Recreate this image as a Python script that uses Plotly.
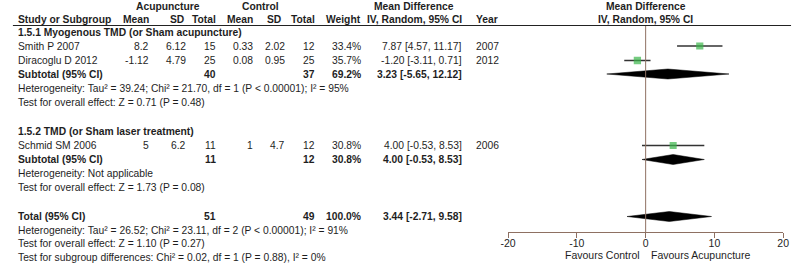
import plotly.graph_objects as go

# ---------------- data ----------------
studies = ["Smith P 2007", "Diracoglu D 2012", "Schmid SM 2006"]
acu_mean = [8.2, -1.12, 5]
acu_sd = [6.12, 4.79, 6.2]
acu_n = [15, 25, 11]
ctl_mean = [0.33, 0.08, 1]
ctl_sd = [2.02, 0.95, 4.7]
ctl_n = [12, 25, 12]
weight = [33.4, 35.7, 30.8]
md = [7.87, -1.20, 4.00]
md_lo = [4.57, -3.11, -0.53]
md_hi = [11.17, 0.71, 8.53]
years = [2007, 2012, 2006]

groups = ["1.5.1 Myogenous TMD (or Sham acupuncture)", "1.5.2 TMD (or Sham laser treatment)"]
sub_acu_n = [40, 11]
sub_ctl_n = [37, 12]
sub_weight = [69.2, 30.8]
sub_md = [3.23, 4.00]
sub_lo = [-5.65, -0.53]
sub_hi = [12.12, 8.53]
sub_het = ["Heterogeneity: Tau² = 39.24; Chi² = 21.70, df = 1 (P < 0.00001); I² = 95%",
           "Heterogeneity: Not applicable"]
sub_test = ["Test for overall effect: Z = 0.71 (P = 0.48)",
            "Test for overall effect: Z = 1.73 (P = 0.08)"]

tot_acu_n = 51
tot_ctl_n = 49
tot_weight = 100.0
tot_md = 3.44
tot_lo = -2.71
tot_hi = 9.58
tot_notes = ["Heterogeneity: Tau² = 26.52; Chi² = 23.11, df = 2 (P < 0.00001); I² = 91%",
             "Test for overall effect: Z = 1.10 (P = 0.27)",
             "Test for subgroup differences: Chi² = 0.02, df = 1 (P = 0.88), I² = 0%"]

tick_vals = [-20, -10, 0, 10, 20]
x_range = [-20, 20]

# ---------------- layout constants (pixels) ----------------
W, H = 800, 271
FONT = "Liberation Sans, Arial, sans-serif"
FS = 10.3
TXT = "#1e1e1e"
GREEN = "#3bb54a"
BROWN = "#8e7062"

study_rows = [46, 60.5, 145.5]
group_rows = [32, 131]
sub_rows = [74, 159.5]
het_rows = [88, 173]
test_rows = [102, 187]
total_row = 216.5
tot_note_rows = [230, 243.5, 257.5]

col_acu_mean = 145
col_acu_sd = 182
col_acu_n = 213
col_ctl_mean = 250
col_ctl_sd = 283
col_ctl_n = 313
col_weight = 360
col_ci = 463
col_year = 475
col_left = 9

fig = go.Figure()
ann = []


def txt(x, y, s, anchor="left", bold=False, size=FS):
    ann.append(dict(x=x / W, y=y, xref="paper", yref="y", text=("<b>%s</b>" % s) if bold else s,
                    showarrow=False, xanchor=anchor, yanchor="middle",
                    font=dict(family=FONT, size=size, color=TXT), borderpad=0))


# headers
txt(163, 6, "Acupuncture", "center", True)
txt(257, 6, "Control", "center", True)
txt(413, 6, "Mean Difference", "center", True)
txt(649, 6, "Mean Difference", "center", True)
txt(col_left, 19, "Study or Subgroup", "left", True)
txt(col_acu_mean, 19, "Mean", "right", True)
txt(col_acu_sd - 2, 19, "SD", "right", True)
txt(col_acu_n, 19, "Total", "right", True)
txt(col_ctl_mean, 19, "Mean", "right", True)
txt(col_ctl_sd - 4, 19, "SD", "right", True)
txt(col_ctl_n, 19, "Total", "right", True)
txt(col_weight, 19, "Weight", "right", True)
txt(col_ci, 19, "IV, Random, 95% CI", "right", True)
txt(col_year, 19, "Year", "left", True)
txt(649, 19, "IV, Random, 95% CI", "center", True)

# study rows
for i, name in enumerate(studies):
    y = study_rows[i]
    txt(col_left, y, name)
    txt(col_acu_mean, y, f"{acu_mean[i]:g}", "right")
    txt(col_acu_sd, y, f"{acu_sd[i]:g}", "right")
    txt(col_acu_n, y, str(acu_n[i]), "right")
    txt(col_ctl_mean, y, f"{ctl_mean[i]:g}", "right")
    txt(col_ctl_sd, y, f"{ctl_sd[i]:g}", "right")
    txt(col_ctl_n, y, str(ctl_n[i]), "right")
    txt(col_weight, y, f"{weight[i]:.1f}%", "right")
    txt(col_ci, y, f"{md[i]:.2f} [{md_lo[i]:.2f}, {md_hi[i]:.2f}]", "right")
    txt(col_year, y, str(years[i]), "left")

# groups
for g, gname in enumerate(groups):
    txt(col_left, group_rows[g], gname, "left", True)
    y = sub_rows[g]
    txt(col_left, y, "Subtotal (95% CI)", "left", True)
    txt(col_acu_n, y, str(sub_acu_n[g]), "right", True)
    txt(col_ctl_n, y, str(sub_ctl_n[g]), "right", True)
    txt(col_weight, y, f"{sub_weight[g]:.1f}%", "right", True)
    txt(col_ci, y, f"{sub_md[g]:.2f} [{sub_lo[g]:.2f}, {sub_hi[g]:.2f}]", "right", True)
    txt(col_left, het_rows[g], sub_het[g])
    txt(col_left, test_rows[g], sub_test[g])

# total
txt(col_left, total_row, "Total (95% CI)", "left", True)
txt(col_acu_n, total_row, str(tot_acu_n), "right", True)
txt(col_ctl_n, total_row, str(tot_ctl_n), "right", True)
txt(col_weight, total_row, f"{tot_weight:.1f}%", "right", True)
txt(col_ci, total_row, f"{tot_md:.2f} [{tot_lo:.2f}, {tot_hi:.2f}]", "right", True)
for r, s in zip(tot_note_rows, tot_notes):
    txt(col_left, r, s)

# favours labels
ann.append(dict(x=-0.7, y=255, xref="x", yref="y", text="Favours Control", showarrow=False,
                xanchor="right", yanchor="middle", font=dict(family=FONT, size=10.5, color=TXT),
                borderpad=0))
ann.append(dict(x=0.7, y=255, xref="x", yref="y", text="Favours Acupuncture", showarrow=False,
                xanchor="left", yanchor="middle", font=dict(family=FONT, size=10.5, color=TXT),
                borderpad=0))

# ---------------- marks ----------------
for i in range(len(studies)):
    fig.add_trace(go.Scatter(x=[md_lo[i], md_hi[i]], y=[study_rows[i]] * 2, mode="lines",
                             line=dict(color="#333333", width=1.4), hoverinfo="skip", showlegend=False))
fig.add_trace(go.Scatter(x=md, y=study_rows, mode="markers",
                         marker=dict(symbol="square", size=[5.5 + w / 20 for w in weight], color=GREEN,
                                     line=dict(width=0)),
                         showlegend=False))


def diamond(lo, est, hi, y, h=5):
    fig.add_trace(go.Scatter(x=[lo, est, hi, est, lo], y=[y, y - h, y, y + h, y], mode="lines",
                             fill="toself", fillcolor="black", line=dict(color="black", width=0.5),
                             hoverinfo="skip", showlegend=False))


for g in range(len(groups)):
    diamond(sub_lo[g], sub_md[g], sub_hi[g], sub_rows[g])
diamond(tot_lo, tot_md, tot_hi, total_row)

shapes = [
    dict(type="line", xref="paper", yref="y", x0=5 / W, x1=797 / W, y0=25.5, y1=25.5,
         line=dict(color="#222222", width=1)),
    dict(type="line", xref="x", yref="y", x0=0, x1=0, y0=26, y1=232,
         line=dict(color=BROWN, width=1)),
]

fig.update_layout(
    width=W, height=H, margin=dict(l=0, r=0, t=0, b=0),
    paper_bgcolor="white", plot_bgcolor="white",
    annotations=ann, shapes=shapes,
    xaxis=dict(domain=[509 / W, 789 / W], range=x_range, tickvals=tick_vals,
               ticktext=[str(v) for v in tick_vals], showgrid=False, zeroline=False,
               showline=True, linecolor=BROWN, linewidth=1, ticks="outside", ticklen=5,
               tickcolor=BROWN, tickwidth=1, anchor="free", position=1 - 232 / H,
               ticklabelstandoff=-4,
               tickfont=dict(family=FONT, size=10.5, color=TXT), fixedrange=True),
    yaxis=dict(range=[H, 0], domain=[0, 1], visible=False, fixedrange=True),
    showlegend=False,
)

fig.write_html("out.html", config={"displayModeBar": False},
               post_script="document.body.style.margin='0';document.body.style.padding='0';")
